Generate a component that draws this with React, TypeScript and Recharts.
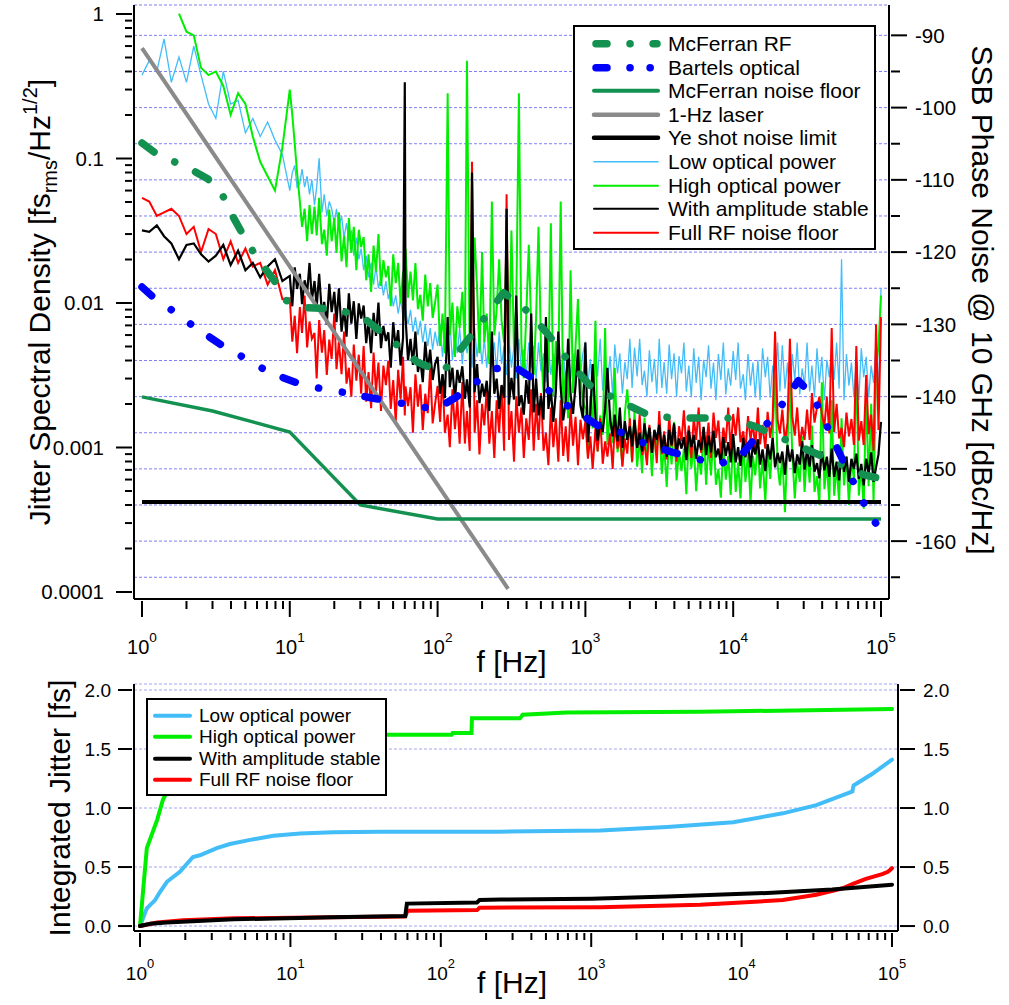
import React from "react";
import { LineChart, Line, XAxis, YAxis, CartesianGrid, Legend } from "recharts";

const FONT = "'Liberation Sans', Arial, Helvetica, sans-serif";

const LIGHT_BLUE = "#42bdf8";
const GREEN = "#00ee00";
const RED = "#ff0000";
const DARK_GREEN = "#139150";
const BLUE = "#0000ff";
const GRAY = "#8a8a8a";

// ---------- top panel: spectral density ----------

// frequency grid of the measured spectra (Hz)
const FREQ = [
  1, 1.12, 1.26, 1.41, 1.58, 1.78, 2, 2.24, 2.51, 2.82, 3.16, 3.55, 3.98, 4.47, 5.01, 5.62, 6.31, 7.08, 7.94, 8.91,
  10, 10.4, 10.8, 11.2, 11.7, 12.1, 12.6, 13.1, 13.6, 14.1,
  14.7, 15.2, 15.8, 16.5, 17.1, 17.8, 18.5, 19.2, 20, 20.7,
  21.5, 22.4, 23.3, 24.2, 25.1, 26.1, 27.1, 28.2, 29.3, 30.4,
  31.6, 32.9, 34.1, 35.5, 36.9, 38.3, 39.8, 41.4, 43, 44.7,
  46.4, 48.2, 50.1, 52.1, 54.1, 56.2, 58.4, 60, 60.7, 63.1,
  65.6, 68.1, 70.8, 73.6, 76.4, 79.4, 82.5, 85.8, 89.1, 92.6, 96.2,
  100, 104, 108, 112, 117, 121, 126, 131, 136, 141,
  147, 153, 158, 165, 171, 178, 185, 192, 200, 207,
  215, 224, 233, 242, 251, 261, 271, 282, 293, 304,
  316, 329, 341, 355, 369, 383, 398, 414, 430, 447,
  464, 482, 501, 521, 541, 562, 584, 607, 631, 656,
  681, 708, 736, 764, 794, 825, 858, 891, 926, 962,
  1000, 1040, 1080, 1120, 1170, 1210, 1260, 1310, 1360, 1410,
  1470, 1530, 1580, 1650, 1710, 1780, 1850, 1920, 2000, 2070,
  2150, 2240, 2330, 2420, 2510, 2610, 2710, 2820, 2930, 3040,
  3160, 3290, 3410, 3550, 3690, 3830, 3980, 4140, 4300, 4470,
  4640, 4820, 5010, 5210, 5410, 5620, 5840, 6070, 6310, 6560,
  6810, 7080, 7360, 7640, 7940, 8250, 8580, 8910, 9260, 9620,
  10000, 10400, 10800, 11200, 11700, 12100, 12600, 13100, 13600, 14100,
  14700, 15200, 15800, 16500, 17100, 17800, 18500, 19200, 20000, 20700,
  21500, 22400, 23300, 24200, 25100, 26100, 27100, 28200, 29300, 30400,
  31600, 32900, 34100, 35500, 36900, 38300, 39800, 41400, 43000, 44700,
  46400, 48200, 50100, 52100, 54100, 56200, 58400, 60700, 63100, 65600,
  68100, 70800, 73600, 76400, 79400, 82500, 85800, 89100, 92600, 96200,
  100000,
];

// measured SSB phase noise, dBc/Hz (right axis)
const LOW_DB = [
  -95.5, -93.5, -95, -90.5, -96.5, -93, -96.5, -91.5, -95.5, -99.5, -101.5, -95, -99.5, -99, -103.5, -101.5, -104, -102, -104.5, -106.5,
  -111.5, -109, -108, -111, -110.5, -108.5, -111, -109.5, -112, -110,
  -113.5, -111, -107, -114.5, -112, -115, -113, -114, -116, -114,
  -116.5, -115, -118, -116, -118.5, -117, -120.5, -118, -121, -119.5,
  -122.5, -120.5, -123.5, -121.5, -124.5, -122, -125, -123.5, -126, -124,
  -126.5, -125, -127.5, -126, -128.5, -126.5, -129, -127.5, -128, -130,
  -128, -131, -129, -131.5, -129.5, -132.5, -130, -133, -130.5, -133.5, -131,
  -133, -130, -134.5, -131, -133.5, -129.5, -135, -131.5, -134, -130.5,
  -135.5, -131, -134, -132, -136, -130.5, -134.5, -131.5, -135.5, -132,
  -136, -131.5, -135, -132.5, -136.5, -131, -135.5, -133, -137, -132,
  -136, -133, -137.5, -132, -136.5, -133.5, -137, -132.5, -136, -133,
  -137.5, -132.5, -136.5, -134, -138, -133, -137, -134, -138.5, -132.5,
  -137, -133.5, -138, -133, -137.5, -134, -138.5, -133.5, -137, -134,
  -132.4, -138.4, -134.8, -140, -133.6, -137.2, -132, -139.2, -135.6, -138,
  -134.4, -140, -132.8, -136.8, -134, -139.6, -135.2, -137.6, -132, -138.8,
  -133.2, -137.2, -132, -138.4, -136.4, -140, -133.6, -138, -134.8, -139.6,
  -132, -138.8, -135.2, -139.6, -132.8, -137.6, -134, -140, -134.4, -136.8,
  -132.5, -139.3, -135.7, -140.1, -133.3, -138.1, -134.5, -140.5, -134.9, -137.3,
  -132.9, -138.9, -135.3, -140.5, -134.1, -137.7, -132.5, -139.7, -136.1, -138.5,
  -133.7, -137.7, -132.5, -138.9, -136.9, -140.5, -134.1, -138.5, -135.3, -140.1,
  -134.9, -140.5, -133.3, -137.3, -134.5, -140.1, -135.7, -138.1, -132.5, -139.3,
  -132.9, -138.9, -135.3, -140.5, -134.1, -137.7, -132.5, -139.7, -136.1, -138.5,
  -132.5, -139.3, -135.7, -140.1, -133.3, -138.1, -134.5, -140.5, -134.9, -137.3,
  -133.7, -137.7, -132.5, -138.9, -121, -140.5, -134.1, -138.5, -135.3, -140.1,
  -134.9, -140.5, -133.3, -137.3, -134.5, -140.1, -135.7, -138.1, -132.5, -139.3,
  -125,
];

const HIGH_DB = [
  null, null, null, null, null, -87, -89.5, -90, -94.5, -95.5, -95, -97, -101, -98, -99.5, -104, -107.5, -109.5, -111.5, -105.5,
  -97.5, -101, -105, -109, -113, -116.5, -114, -118.5, -113.5, -117.5,
  -113.7, -117.7, -112.5, -118.9, -116.9, -120.5, -114.1, -118.5, -115.3, -120.1,
  -114.5, -121.3, -117.7, -122.1, -115.3, -120.1, -116.5, -122.5, -116.9, -119.3,
  -117.9, -123.9, -120.3, -125.5, -119.1, -122.7, -117.5, -124.7, -121.1, -123.5,
  -121.9, -127.5, -120.3, -124.3, -121.5, -127.1, -122.7, -125.1, -119.5, -126.3,
  -122.7, -126.7, -121.5, -127.9, -125.9, -129.5, -123.1, -127.5, -124.3, -129.1, -127,
  -124.5, -133, -128.5, -134, -98, -131.5, -127, -134.5, -127.5, -130.5,
  -125.5, -133, -93.5, -135, -127, -118, -125, -134, -120, -132.5,
  -128.5, -135.5, -113, -131.5, -128, -121, -129.5, -132.5, -118, -134,
  -117, -133.7, -126.5, -98, -132.6, -137.5, -128.7, -119, -130.4, -137,
  -129, -116.5, -133.4, -139.5, -130.1, -136.7, -116, -140, -132.3, -135.6,
  -113, -141, -136.5, -143, -122.5, -139.5, -133, -126.5, -137.5, -140.5,
  -141.7, -148, -139.9, -144.4, -129.5, -147.6, -142.6, -145.3, -130.5, -146.7,
  -141.9, -146.4, -136, -147.7, -145.5, -149.5, -142.3, -139, -143.7, -149.1,
  -142, -149.7, -145.6, -150.6, -142.9, -148.3, -144.3, -151, -144.7, -147.4,
  -144, -150.7, -146.7, -152.5, -145.3, -149.4, -143.5, -151.6, -147.6, -150.3,
  -147.2, -153.5, -145.4, -149.9, -146.8, -153.1, -148.1, -150.8, -144.5, -152.2,
  -146.4, -150.9, -145, -152.2, -150, -154, -146.8, -151.5, -148.2, -153.6,
  -145.5, -153.2, -149.1, -154.1, -146.4, -151.8, -147.8, -154.5, -148.2, -150.9,
  -146, -152.7, -148.7, -154.5, -147.3, -151.4, -145.5, -137, -149.6, -152.3,
  -148.2, -156, -146.4, -138, -147.8, -154.1, -149.1, -151.8, -145.5, -153.2,
  -147.4, -151.9, -144, -153.2, -151, -155, -138, -152.8, -149.2, -154.6,
  -140.5, -153.7, -149.6, -154.6, -143, -152.3, -148.3, -155, -148.7, -151.4,
  -135, -153.7, -149.7, -155.5, -139, -152.4, -141, -154.6, -136, -133,
  -126,
];

const AMP_DB = [
  -117, -117.2, -116.3, -117.8, -118.8, -121, -119, -118.8, -120.3, -121.3, -120.5, -119, -121.8, -119.8, -122.5, -121.5, -123.5, -122, -121, -124,
  -123.3, -127.5, -122.1, -125.1, -123, -127.2, -123.9, -125.7, -121.5, -126.6,
  -124, -127.6, -123, -128.6, -126.9, -130, -124.4, -128.3, -125.5, -129.7,
  -125, -131, -127.8, -131.7, -125.7, -129.9, -126.8, -132, -127.1, -129.2,
  -127.4, -132.6, -129.5, -134, -128.4, -131.6, -127, -133.3, -130.2, -132.3,
  -131.1, -136, -129.7, -133.2, -130.8, -135.7, -131.8, -96.5, -129, -135,
  -132, -135.6, -131, -136.6, -134.9, -138, -132.4, -136.3, -133.5, -137.7, -135.5,
  -134.5, -139.6, -136.9, -140.2, -129, -138.7, -136, -140.5, -136.3, -138.1,
  -135.8, -140.3, -137.6, -141.5, -109, -139.4, -135.5, -140.9, -138.2, -140,
  -137.8, -142, -131, -139.6, -137.5, -141.7, -138.4, -140.2, -114, -141.1,
  -137.4, -140.4, -126, -141.3, -139.8, -142.5, -137.7, -141, -128.5, -142.2,
  -137.5, -142.6, -139.9, -143.2, -129, -141.7, -139, -143.5, -139.3, -131,
  -138.8, -143.3, -140.6, -132, -139.7, -142.4, -138.5, -133.5, -141.2, -143,
  -132.5, -146.3, -142.2, -135.5, -142.9, -146.1, -143.5, -144.9, -141.7, -136,
  -143.2, -145.5, -142.5, -146.2, -141.5, -147.1, -143.4, -146, -144.1, -146.9,
  -143.2, -147.1, -145, -147.6, -143.7, -146.4, -144.3, -147.8, -144.6, -146,
  -143.9, -147.4, -145.3, -148.3, -144.6, -146.7, -143.7, -147.8, -145.8, -147.2,
  -145.6, -148.8, -144.7, -147, -145.3, -148.6, -146, -147.4, -144.2, -148.1,
  -145.4, -147.7, -144.7, -148.4, -147.2, -149.3, -145.6, -148.2, -146.3, -149.1,
  -145.2, -149.1, -147, -149.6, -145.7, -148.4, -146.3, -149.8, -146.6, -148,
  -145.9, -149.4, -147.3, -150.3, -146.6, -148.7, -145.7, -149.8, -147.8, -149.2,
  -147.6, -150.8, -146.7, -149, -147.3, -150.6, -148, -149.4, -146.2, -150.1,
  -147.4, -149.7, -146.7, -150.4, -149.2, -151.3, -147.6, -150.2, -148.3, -151.1,
  -147.2, -151.1, -149, -151.6, -147.7, -150.4, -148.3, -151.8, -148.6, -150,
  -147.9, -151.4, -149.3, -152.3, -148.6, -150.7, -147.7, -151.8, -149.8, -148,
  -143.5,
];

const RF_DB = [
  -112.5, -113, -115, -114.5, -114, -115, -117.5, -116.5, -120, -116.8, -117.5, -121, -118.5, -121.5, -119.5, -122, -121.5, -124.5, -122.5, -126.5,
  -126.4, -132.4, -128.8, -134, -127.6, -131.2, -126, -133.2, -129.6, -132,
  -131.2, -137.5, -129.4, -133.9, -130.8, -137, -132.1, -134.8, -128.5, -136.2,
  -132.4, -136.9, -131, -138.2, -136, -140, -132.8, -137.8, -134.2, -139.6,
  -133, -140.7, -136.6, -141.6, -133.9, -139.3, -135.3, -142, -135.7, -138.4,
  -135, -141.7, -137.7, -143.5, -136.3, -140.4, -134.5, -142.6, -138.6, -141.3,
  -138.7, -145, -136.9, -141.4, -138.3, -144.6, -139.6, -142.3, -136, -143.7, -141,
  -138.5, -143.5, -137, -145, -142.5, -147, -139, -144.5, -140.5, -146.5,
  -138, -146.5, -142, -147.5, -107.5, -145, -140.5, -148, -141, -144,
  -139, -146.5, -142, -148.5, -140.5, -145, -138.5, -147.5, -112, -146,
  -142, -149, -140, -145, -141.5, -148.5, -143, -146, -139, -147.5,
  -141, -146, -139.5, -147.5, -145, -149.5, -141.5, -147, -143, -149,
  -140.5, -148.2, -144.1, -149, -141.4, -146.8, -142.8, -149.5, -143.2, -145.9,
  -143.4, -148.6, -145.5, -150, -144.4, -147.6, -143, -149.3, -146.2, -148.3,
  -145.1, -150, -143.7, -147.2, -144.8, -149.7, -145.8, -147.9, -143, -149,
  -143.6, -147, -142.5, -148.1, -146.4, -149.5, -143.9, -147.8, -145, -149.2,
  -142, -148, -144.8, -148.7, -142.7, -146.9, -143.8, -149, -144.1, -146.2,
  -141.9, -147.1, -144, -148.5, -142.9, -146, -141.5, -147.8, -144.7, -146.8,
  -143.6, -148.5, -142.2, -145.7, -143.3, -148.2, -144.3, -146.4, -141.5, -147.5,
  -142.4, -145.4, -141.5, -146.3, -144.8, -147.5, -142.7, -146, -143.6, -147.2,
  -141.5, -146.6, -143.9, -147.2, -142.1, -145.7, -143, -131, -143.3, -145.1,
  -141.8, -146.3, -143.6, -132, -142.7, -145.4, -141.5, -146.9, -144.2, -146,
  -141.8, -146, -139.5, -143.6, -141.5, -140, -142.4, -144.2, -140, -145.1,
  -130.5, -144.9, -141, -145.8, -144.3, -147, -142.2, -145.5, -143.1, -146.7,
  -133, -146.1, -143.4, -146.7, -137, -145.2, -142.5, -147.5, -130, -144.6,
  -129,
];

// reference curves, jitter density in fs/Hz^1/2 (left axis)
const MCF_RF_F = [1, 1.25, 1.65, 2.2, 2.8, 3.5, 4.1, 4.8, 5.6, 6.6, 8.2, 9.3, 12, 16, 21, 31, 47, 73, 108, 148, 202, 280, 390, 550, 780, 1070, 1700, 2600, 3900, 6100, 9200, 14000, 21400, 32000, 50000, 76000, 92000];
const MCF_RF_J = [0.128, 0.108, 0.095, 0.083, 0.072, 0.056, 0.04, 0.03, 0.023, 0.018, 0.0135, 0.0105, 0.0093, 0.0092, 0.009, 0.008, 0.0057, 0.0039, 0.0033, 0.005, 0.0076, 0.0118, 0.0091, 0.0062, 0.0039, 0.0027, 0.0021, 0.0017, 0.0016, 0.0016, 0.0016, 0.0014, 0.00116, 0.00096, 0.00079, 0.00065, 0.00062];

const BARTELS_F = [1, 1.19, 1.65, 2.28, 3.47, 5.3, 7.3, 11.2, 16.7, 23.6, 36, 55, 76, 101, 131, 175, 245, 320, 420, 560, 780, 1200, 1800, 2500, 3850, 5800, 8000, 11700, 16000, 20800, 27600, 34600, 40400, 48700, 59600, 70500, 84000, 92000];
const BARTELS_J = [0.0129, 0.011, 0.0087, 0.0068, 0.0051, 0.004, 0.0033, 0.0028, 0.00254, 0.0024, 0.0022, 0.00204, 0.0019, 0.00188, 0.0022, 0.00275, 0.0035, 0.0037, 0.0031, 0.0025, 0.0019, 0.00143, 0.00126, 0.00107, 0.00093, 0.00083, 0.00076, 0.00092, 0.00136, 0.0019, 0.0029, 0.00227, 0.00163, 0.00107, 0.00069, 0.00049, 0.00034, 0.0003];

const FLOOR_F = [1, 3, 10, 30, 100, 100000];
const FLOOR_J = [0.00224, 0.00179, 0.00128, 0.0004, 0.00032, 0.00032];

const LASER_F = [1, 300];
const LASER_J = [0.58, 0.000105];

const YE_F = [1, 100000];
const YE_J = [0.00042, 0.00042];

const X_TICKS = [
  1, 2, 3, 4, 5, 6, 7, 8, 9, 10, 20, 30, 40, 50, 60, 70, 80, 90, 100, 200, 300, 400, 500, 600, 700, 800, 900,
  1000, 2000, 3000, 4000, 5000, 6000, 7000, 8000, 9000, 10000, 20000, 30000, 40000, 50000, 60000, 70000, 80000, 90000, 100000,
];
const J_TICKS = [
  0.0001, 0.0002, 0.0003, 0.0004, 0.0005, 0.0006, 0.0007, 0.0008, 0.0009,
  0.001, 0.002, 0.003, 0.004, 0.005, 0.006, 0.007, 0.008, 0.009,
  0.01, 0.02, 0.03, 0.04, 0.05, 0.06, 0.07, 0.08, 0.09,
  0.1, 0.2, 0.3, 0.4, 0.5, 0.6, 0.7, 0.8, 0.9, 1,
];
const DB_TICKS = [-165, -160, -155, -150, -145, -140, -135, -130, -125, -120, -115, -110, -105, -100, -95, -90];

// ---------- bottom panel: integrated jitter (fs) ----------
const INT_LOW_F = [1, 1.11, 1.26, 1.36, 1.51, 1.84, 2.25, 2.5, 3.24, 3.96, 5.4, 7.7, 11.6, 19.2, 40, 100, 247, 1150, 3200, 8800, 18800, 31400, 50500, 54500, 55500, 74000, 100000];
const INT_LOW_V = [0, 0.15, 0.22, 0.29, 0.375, 0.46, 0.585, 0.6, 0.66, 0.695, 0.73, 0.765, 0.785, 0.795, 0.8, 0.8, 0.8, 0.81, 0.84, 0.88, 0.955, 1.025, 1.125, 1.14, 1.19, 1.29, 1.41];

const INT_HIGH_F = [1, 1.11, 1.3, 1.42, 1.6, 2, 3, 5, 10, 44, 118, 120, 160, 161, 336, 350, 690, 5300, 100000];
const INT_HIGH_V = [0, 0.66, 0.9, 1.07, 1.2, 1.35, 1.5, 1.56, 1.6, 1.62, 1.62, 1.635, 1.635, 1.76, 1.76, 1.79, 1.81, 1.815, 1.84];

const INT_AMP_F = [1, 1.17, 1.5, 4.2, 19, 58, 59.5, 174, 181, 250, 1000, 3200, 14800, 40000, 100000];
const INT_AMP_V = [0, 0.02, 0.03, 0.057, 0.074, 0.085, 0.19, 0.2, 0.22, 0.225, 0.232, 0.25, 0.28, 0.31, 0.35];

const INT_RF_F = [1, 1.3, 1.93, 4.2, 19, 58, 60, 174, 181, 1150, 5300, 18800, 31400, 47000, 55500, 67000, 86000, 94000, 100000];
const INT_RF_V = [0, 0.03, 0.05, 0.065, 0.075, 0.08, 0.13, 0.135, 0.155, 0.16, 0.18, 0.22, 0.265, 0.32, 0.36, 0.4, 0.44, 0.46, 0.49];

const INT_TICKS = [0, 0.5, 1, 1.5, 2];

// ---------- helpers ----------
const spectra = FREQ.map((f, i) => ({ f, low: LOW_DB[i], high: HIGH_DB[i], amp: AMP_DB[i], rf: RF_DB[i] }));
const pairs = (fs: number[], vs: number[]) => fs.map((f, i) => ({ f, v: vs[i] }));

const isDecade = (v: number) => Math.abs(Math.log10(v) - Math.round(Math.log10(v))) < 1e-6;
const AXIS = { stroke: "#000", strokeWidth: 2 };

const XLogTick = (props: any) => {
  const { x, y, payload, major, minor, labelDy, fontSize } = props;
  const v = payload.value;
  const dec = isDecade(v);
  return (
    <g>
      <line x1={x} x2={x} y1={y} y2={y + (dec ? major : minor)} stroke="#000" strokeWidth={2} />
      {dec && (
        <text x={x} y={y + labelDy} textAnchor="middle" fontSize={fontSize} fontFamily={FONT} fill="#000">
          10<tspan dy={-fontSize * 0.62} fontSize={fontSize * 0.68}>{Math.round(Math.log10(v))}</tspan>
        </text>
      )}
    </g>
  );
};

const LeftLogTick = (props: any) => {
  const { x, y, payload } = props;
  const v = payload.value;
  const dec = isDecade(v);
  return (
    <g>
      <line x1={x - (dec ? 16 : 7)} x2={x} y1={y} y2={y} stroke="#000" strokeWidth={2} />
      {dec && (
        <text x={x - 28} y={y} dy="0.36em" textAnchor="end" fontSize={20.5} fontFamily={FONT} fill="#000">
          {String(v)}
        </text>
      )}
    </g>
  );
};

const RightDbTick = (props: any) => {
  const { x, y, payload } = props;
  const v = payload.value;
  const major = v % 10 === 0;
  return (
    <g>
      <line x1={x} x2={x + (major ? 16 : 9)} y1={y} y2={y} stroke="#000" strokeWidth={2} />
      {major && (
        <text x={x + 24} y={y} dy="0.36em" textAnchor="start" fontSize={20.5} fontFamily={FONT} fill="#000">
          {v}
        </text>
      )}
    </g>
  );
};

const LinTick = (props: any) => {
  const { x, y, payload, side } = props;
  const left = side === "left";
  return (
    <g>
      <line x1={x} x2={left ? x - 14 : x + 15} y1={y} y2={y} stroke="#000" strokeWidth={2} />
      <text x={left ? x - 21 : x + 23} y={y} dy="0.36em" textAnchor={left ? "end" : "start"} fontSize={19} fontFamily={FONT} fill="#000">
        {payload.value.toFixed(1)}
      </text>
    </g>
  );
};

type LegendRow = { name: string; color: string; width: number; dash?: string };

const TOP_LEGEND: LegendRow[] = [
  { name: "McFerran RF", color: DARK_GREEN, width: 7.5, dash: "11 23 0.1 23" },
  { name: "Bartels optical", color: BLUE, width: 7.5, dash: "11 23 0.1 20 0.1 23" },
  { name: "McFerran noise floor", color: DARK_GREEN, width: 4 },
  { name: "1-Hz laser", color: GRAY, width: 4.5 },
  { name: "Ye shot noise limit", color: "#000", width: 4.5 },
  { name: "Low optical power", color: LIGHT_BLUE, width: 1.5 },
  { name: "High optical power", color: GREEN, width: 2 },
  { name: "With amplitude stable", color: "#000", width: 2 },
  { name: "Full RF noise floor", color: RED, width: 2 },
];

const BOTTOM_LEGEND: LegendRow[] = [
  { name: "Low optical power", color: LIGHT_BLUE, width: 4 },
  { name: "High optical power", color: GREEN, width: 4 },
  { name: "With amplitude stable", color: "#000", width: 4 },
  { name: "Full RF noise floor", color: RED, width: 4 },
];

const legendContent = (rows: LegendRow[], o: any) => () => (
  <div
    style={{
      boxSizing: "border-box",
      width: o.w,
      height: o.h,
      border: "2px solid #000",
      background: "#fff",
      paddingTop: o.padTop,
      fontFamily: FONT,
      fontSize: o.fs,
      color: "#000",
    }}
  >
    {rows.map((r) => (
      <div key={r.name} style={{ display: "flex", alignItems: "center", height: o.rowH, whiteSpace: "nowrap" }}>
        <svg width={o.svgW} height={o.rowH} style={{ marginLeft: o.padLeft, flex: "none", display: "block" }}>
          <line
            x1={r.dash ? o.dx1 : o.x1}
            x2={r.dash ? o.dx2 : o.x2}
            y1={o.rowH / 2}
            y2={o.rowH / 2}
            stroke={r.color}
            strokeWidth={r.width}
            strokeDasharray={r.dash}
            strokeLinecap="round"
          />
        </svg>
        <span style={{ marginLeft: o.gap, lineHeight: `${o.rowH}px` }}>{r.name}</span>
      </div>
    ))}
  </div>
);

const topLegend = legendContent(TOP_LEGEND, {
  w: 303, h: 225, padTop: 5, fs: 21, rowH: 23.6, svgW: 76, padLeft: 14, x1: 5, x2: 69, dx1: 7, dx2: 68, gap: 3,
});
const bottomLegend = legendContent(BOTTOM_LEGEND, {
  w: 241, h: 98, padTop: 5, fs: 19, rowH: 21.4, svgW: 44, padLeft: 2, x1: 5, x2: 40, dx1: 5, dx2: 40, gap: 5,
});

const TITLE = 30;

export default function App() {
  return (
    <div style={{ position: "absolute", left: 0, top: 0, width: 1009, height: 1005, background: "#fff" }}>
      <div style={{ position: "absolute", left: 0, top: 0 }}>
        <LineChart width={1009} height={690} data={spectra} margin={{ top: 5, right: 0, bottom: 0, left: 0 }}>
          <CartesianGrid vertical={false} stroke="#7f7ff8" strokeDasharray="3 2" strokeWidth={1} />
          <XAxis
            dataKey="f"
            type="number"
            scale="log"
            domain={[0.883, 113300]}
            allowDataOverflow
            ticks={X_TICKS}
            interval={0}
            height={91}
            tickSize={0}
            tickLine={false}
            axisLine={AXIS}
            tick={(p: any) => <XLogTick {...p} major={16} minor={8} labelDy={53} fontSize={20} />}
            label={() => (
              <text x={511.5} y={672} textAnchor="middle" fontSize={TITLE} fontFamily={FONT} fill="#000">
                f [Hz]
              </text>
            )}
          />
          <XAxis
            xAxisId="top"
            orientation="top"
            type="number"
            scale="log"
            domain={[0.883, 113300]}
            allowDataOverflow
            height={0}
            tick={false}
            tickLine={false}
            axisLine={AXIS}
          />
          <YAxis
            yAxisId="left"
            type="number"
            scale="log"
            domain={[8.944e-5, 1.1543]}
            allowDataOverflow
            ticks={J_TICKS}
            interval={0}
            width={134}
            tickSize={0}
            tickLine={false}
            axisLine={AXIS}
            tick={(p: any) => <LeftLogTick {...p} />}
            label={() => (
              <text x={50} y={302} transform="rotate(-90 50 302)" textAnchor="middle" fontSize={TITLE} fontFamily={FONT} fill="#000">
                Jitter Spectral Density [fs
                <tspan fontSize={20} dy={7}>rms</tspan>
                <tspan dy={-7}>/Hz</tspan>
                <tspan fontSize={20} dy={-13}>1/2</tspan>
                <tspan dy={13}>]</tspan>
              </text>
            )}
          />
          <YAxis
            orientation="right"
            type="number"
            domain={[-168.01, -85.8]}
            allowDataOverflow
            ticks={DB_TICKS}
            interval={0}
            width={120}
            tickSize={0}
            tickLine={false}
            axisLine={AXIS}
            tick={(p: any) => <RightDbTick {...p} />}
            label={() => (
              <text x={972} y={300} transform="rotate(90 972 300)" textAnchor="middle" fontSize={TITLE} fontFamily={FONT} fill="#000">
                SSB Phase Noise @ 10 GHz [dBc/Hz]
              </text>
            )}
          />

          <Line dataKey="low" stroke={LIGHT_BLUE} strokeWidth={1.3} dot={false} activeDot={false} isAnimationActive={false} />
          <Line dataKey="high" stroke={GREEN} strokeWidth={2} dot={false} activeDot={false} isAnimationActive={false} />
          <Line dataKey="rf" stroke={RED} strokeWidth={2} dot={false} activeDot={false} isAnimationActive={false} />
          <Line dataKey="amp" stroke="#000" strokeWidth={2.2} dot={false} activeDot={false} isAnimationActive={false} />

          <Line yAxisId="left" data={pairs(LASER_F, LASER_J)} dataKey="v" stroke={GRAY} strokeWidth={4} dot={false} activeDot={false} isAnimationActive={false} />
          <Line yAxisId="left" data={pairs(FLOOR_F, FLOOR_J)} dataKey="v" stroke={DARK_GREEN} strokeWidth={3.5} dot={false} activeDot={false} isAnimationActive={false} />
          <Line yAxisId="left" data={pairs(YE_F, YE_J)} dataKey="v" stroke="#000" strokeWidth={4} dot={false} activeDot={false} isAnimationActive={false} />
          <Line
            yAxisId="left"
            data={pairs(MCF_RF_F, MCF_RF_J)}
            dataKey="v"
            stroke={DARK_GREEN}
            strokeWidth={7.5}
            strokeDasharray="15 23 0.1 23"
            strokeLinecap="round"
            strokeLinejoin="round"
            dot={false}
            activeDot={false}
            isAnimationActive={false}
          />
          <Line
            yAxisId="left"
            data={pairs(BARTELS_F, BARTELS_J)}
            dataKey="v"
            stroke={BLUE}
            strokeWidth={7.5}
            strokeDasharray="13 24 0.1 24 0.1 23"
            strokeLinecap="round"
            strokeLinejoin="round"
            dot={false}
            activeDot={false}
            isAnimationActive={false}
          />
          <Legend
            layout="horizontal"
            verticalAlign="middle"
            align="center"
            wrapperStyle={{ left: 573, top: 25, width: 303, height: 225 }}
            content={topLegend}
          />
        </LineChart>
      </div>

      <div style={{ position: "absolute", left: 0, top: 670 }}>
        <LineChart width={1009} height={335} margin={{ top: 14, right: 0, bottom: 0, left: 0 }}>
          <CartesianGrid vertical={false} stroke="#a4a4f4" strokeDasharray="3 2" strokeWidth={1} />
          <XAxis
            dataKey="f"
            type="number"
            scale="log"
            domain={[0.912, 109600]}
            allowDataOverflow
            ticks={X_TICKS}
            interval={0}
            height={74}
            tickSize={0}
            tickLine={false}
            axisLine={AXIS}
            tick={(p: any) => <XLogTick {...p} major={14} minor={7} labelDy={47} fontSize={19} />}
            label={() => (
              <text x={512} y={323} textAnchor="middle" fontSize={TITLE} fontFamily={FONT} fill="#000">
                f [Hz]
              </text>
            )}
          />
          <XAxis
            xAxisId="top"
            orientation="top"
            type="number"
            scale="log"
            domain={[0.912, 109600]}
            allowDataOverflow
            height={0}
            tick={false}
            tickLine={false}
            axisLine={AXIS}
          />
          <YAxis
            type="number"
            domain={[-0.042, 2.051]}
            allowDataOverflow
            ticks={INT_TICKS}
            interval={0}
            width={134}
            tickSize={0}
            tickLine={false}
            axisLine={AXIS}
            tick={(p: any) => <LinTick {...p} side="left" />}
            label={() => (
              <text x={70} y={138} transform="rotate(-90 70 138)" textAnchor="middle" fontSize={TITLE} fontFamily={FONT} fill="#000">
                Integrated Jitter [fs]
              </text>
            )}
          />
          <YAxis
            yAxisId="r"
            orientation="right"
            type="number"
            domain={[-0.042, 2.051]}
            allowDataOverflow
            ticks={INT_TICKS}
            interval={0}
            width={111}
            tickSize={0}
            tickLine={false}
            axisLine={AXIS}
            tick={(p: any) => <LinTick {...p} side="right" />}
          />
          <Line data={pairs(INT_LOW_F, INT_LOW_V)} dataKey="v" stroke={LIGHT_BLUE} strokeWidth={4} strokeLinecap="round" dot={false} activeDot={false} isAnimationActive={false} />
          <Line data={pairs(INT_HIGH_F, INT_HIGH_V)} dataKey="v" stroke={GREEN} strokeWidth={4} strokeLinecap="round" dot={false} activeDot={false} isAnimationActive={false} />
          <Line data={pairs(INT_RF_F, INT_RF_V)} dataKey="v" stroke={RED} strokeWidth={4} strokeLinecap="round" dot={false} activeDot={false} isAnimationActive={false} />
          <Line data={pairs(INT_AMP_F, INT_AMP_V)} dataKey="v" stroke="#000" strokeWidth={4} strokeLinecap="round" dot={false} activeDot={false} isAnimationActive={false} />
          <Legend
            layout="horizontal"
            verticalAlign="middle"
            align="center"
            wrapperStyle={{ left: 146, top: 28, width: 241, height: 98 }}
            content={bottomLegend}
          />
        </LineChart>
      </div>
    </div>
  );
}
